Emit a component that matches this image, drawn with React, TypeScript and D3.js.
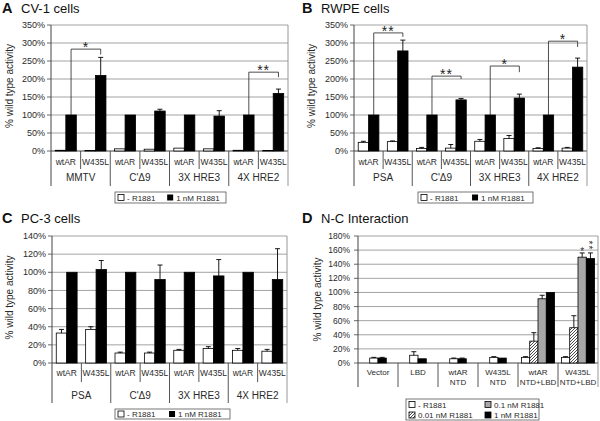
import React from "react";
import * as d3 from "d3";

const FONT = "'Liberation Sans', Arial, Helvetica, sans-serif";

// ---------- data ----------
const constructs = ["wtAR", "W435L"];
const groupsA = ["MMTV", "C'Δ9", "3X HRE3", "4X HRE2"];
const groupsBC = ["PSA", "C'Δ9", "3X HRE3", "4X HRE2"];

const aNone = [2, 1.5, 6, 5, 8, 6, 2, 1.5];
const aNoneErr = [1, 0.5, 1, 1, 1, 1, 1, 0.5];
const a1nM = [100, 210, 100, 111, 100, 97, 100, 160];
const a1nMErr = [0, 50, 0, 5, 0, 15, 0, 12];

const bNone = [24, 26, 7, 8, 27, 35, 7, 8];
const bNoneErr = [3, 2, 3, 10, 5, 8, 2, 2];
const b1nM = [100, 278, 100, 142, 100, 147, 100, 233];
const b1nMErr = [0, 30, 0, 4, 0, 11, 0, 25];

const cNone = [33, 37, 11, 11, 14, 16, 14, 13];
const cNoneErr = [4, 3, 1, 1, 1, 2, 2, 2];
const c1nM = [100, 103, 100, 92, 100, 96, 100, 92];
const c1nMErr = [0, 10, 0, 16, 0, 18, 0, 34];

const dCats = [["Vector"], ["LBD"], ["wtAR", "NTD"], ["W435L", "NTD"], ["wtAR", "NTD+LBD"], ["W435L", "NTD+LBD"]];
const dNone = [7, 11, 6, 8, 8, 8];
const dNoneErr = [1, 5, 1, 1, 1, 1];
const d001 = [null, null, null, null, 31, 50];
const d001Err = [0, 0, 0, 0, 12, 17];
const d01 = [null, null, null, null, 91, 150];
const d01Err = [0, 0, 0, 0, 5, 6];
const d1 = [7, 6, 6, 7, 100, 148];
const d1Err = [1, 0, 1, 0, 0, 8];
const dStars = ["", "", "", "", "", ""];
const dStarsGray = ["", "", "", "", "", "*"];
const dStarsBlack = ["", "", "", "", "", "**"];

const bracketsA = [
  { g: 0, level: 283, right: 268, label: "*" },
  { g: 3, level: 219, right: 205, label: "**" },
];
const bracketsB = [
  { g: 0, level: 328, right: 317, label: "**" },
  { g: 1, level: 208, right: 200, label: "**" },
  { g: 2, level: 236, right: 219, label: "*" },
  { g: 3, level: 305, right: 289, label: "*" },
];

// ---------- styling ----------
const TEXT = "#2a2a2a";
const GRID = "#8c8c8c";
const AXIS = "#444";

function ErrBar({ x, y0, y1 }: { x: number; y0: number; y1: number }) {
  if (Math.abs(y0 - y1) < 0.5) return null;
  return (
    <g stroke="#000" strokeWidth={0.9}>
      <line x1={x} x2={x} y1={y0} y2={y1} />
      <line x1={x - 2.5} x2={x + 2.5} y1={y1} y2={y1} />
    </g>
  );
}

function Title({ x, y, letter, title }: any) {
  return (
    <g fill="#111">
      <text x={x} y={y} fontSize={14.5} fontWeight="bold">{letter}</text>
      <text x={x + 19} y={y} fontSize={13}>{title}</text>
    </g>
  );
}

function YAxis({ x0, x1, y, ticks, fs, tickLen, gap }: any) {
  return (
    <g>
      {ticks.map((t: number) => (
        <g key={t}>
          <line x1={x0} x2={x1} y1={y(t)} y2={y(t)} stroke={t === 0 ? AXIS : GRID} strokeWidth={t === 0 ? 1 : 0.8} />
          <line x1={x0 - tickLen} x2={x0} y1={y(t)} y2={y(t)} stroke={AXIS} strokeWidth={0.8} />
          <text x={x0 - gap} y={y(t) + fs * 0.35} fontSize={fs} textAnchor="end" fill={TEXT}>{`${t}%`}</text>
        </g>
      ))}
    </g>
  );
}

function GroupedPanel(p: any) {
  const { L, letter, title, groups, none, noneErr, hi, hiErr, yMax, yStep, brackets } = p;
  const n = groups.length * constructs.length;
  const x = d3.scaleBand<number>().domain(d3.range(n)).range([L.x0, L.x1]).paddingInner(0.29).paddingOuter(0.145);
  const sx = d3.scaleBand<string>().domain(["none", "hi"]).range([0, x.bandwidth()]);
  const bw = sx.bandwidth();
  const y = d3.scaleLinear().domain([0, yMax]).range([L.yBot, L.yTop]);
  const ticks = d3.range(0, yMax + 1e-6, yStep);
  const step = (L.x1 - L.x0) / n;
  const cx = (i: number) => L.x0 + (i + 0.5) * step;
  const hiCx = (i: number) => (x(i) as number) + (sx("hi") as number) + bw / 2;
  const noneCx = (i: number) => (x(i) as number) + (sx("none") as number) + bw / 2;
  return (
    <g>
      <Title x={L.letterX} y={L.titleBase} letter={letter} title={title} />
      <YAxis x0={L.x0} x1={L.x1} y={y} ticks={ticks} fs={9} tickLen={4} gap={6} />
      <line x1={L.x0} x2={L.x0} y1={L.yTop} y2={L.groupEnd} stroke={AXIS} strokeWidth={1} />
      <line x1={L.x1} x2={L.x1} y1={L.yTop} y2={L.groupEnd} stroke={GRID} strokeWidth={0.9} />
      {d3.range(1, n).map((i) => (
        <line key={i} x1={L.x0 + i * step} x2={L.x0 + i * step} y1={L.yBot} y2={i % 2 === 0 ? L.groupEnd : L.innerEnd} stroke={AXIS} strokeWidth={0.9} />
      ))}
      {d3.range(n).map((i) => (
        <text key={"s" + i} x={cx(i)} y={L.subBase} fontSize={8.5} textAnchor="middle" fill={TEXT}>{constructs[i % 2]}</text>
      ))}
      {groups.map((g: string, gi: number) => (
        <text key={"g" + gi} x={L.x0 + (2 * gi + 1) * step} y={L.groupBase} fontSize={10} textAnchor="middle" fill={TEXT}>{g}</text>
      ))}
      {d3.range(n).map((i) => (
        <g key={"b" + i}>
          <rect x={(x(i) as number) + (sx("none") as number)} y={y(none[i])} width={bw} height={L.yBot - y(none[i])} fill="#fff" stroke="#000" strokeWidth={0.8} />
          <ErrBar x={noneCx(i)} y0={y(none[i])} y1={y(none[i] + noneErr[i])} />
          <rect x={(x(i) as number) + (sx("hi") as number)} y={y(hi[i])} width={bw} height={L.yBot - y(hi[i])} fill="#000" stroke="#000" strokeWidth={0.8} />
          <ErrBar x={hiCx(i)} y0={y(hi[i])} y1={y(hi[i] + hiErr[i])} />
        </g>
      ))}
      {brackets.map((b: any, k: number) => {
        const lx = hiCx(2 * b.g);
        const rx = hiCx(2 * b.g + 1);
        return (
          <g key={"br" + k}>
            <path d={`M${lx},${y(hi[2 * b.g])}V${y(b.level)}H${rx}V${y(b.right)}`} fill="none" stroke="#222" strokeWidth={0.8} />
            <text x={(lx + rx) / 2} y={y(b.level) + 3} fontSize={14} textAnchor="middle" letterSpacing={1} fill="#222">{b.label}</text>
          </g>
        );
      })}
      <text transform={`translate(${L.yTitleX},${(L.yTop + L.yBot) / 2 - 2}) rotate(-90)`} fontSize={10} textAnchor="middle" fill={TEXT}>% wild type activity</text>
      <g>
        <rect x={L.legend.x} y={L.legend.y} width={L.legend.w} height={L.legend.h} fill="#fff" stroke="#555" strokeWidth={0.8} />
        <rect x={L.legend.x + 3} y={L.legend.y + L.legend.h / 2 - 3} width={6} height={6} fill="#fff" stroke="#000" strokeWidth={0.8} />
        <text x={L.legend.x + 12} y={L.legend.y + L.legend.h / 2 + 3} fontSize={8} fill={TEXT}>- R1881</text>
        <rect x={L.legend.x + L.legend.w * 0.47} y={L.legend.y + L.legend.h / 2 - 3} width={6} height={6} fill="#000" />
        <text x={L.legend.x + L.legend.w * 0.47 + 9} y={L.legend.y + L.legend.h / 2 + 3} fontSize={8} fill={TEXT}>1 nM R1881</text>
      </g>
    </g>
  );
}

function PanelD() {
  const L = { x0: 358, x1: 598, yTop: 236, yBot: 363, l1: 375, l2: 385, sepEnd: 387, yTitleX: 321, titleBase: 223, letterX: 302 };
  const n = dCats.length;
  const yMax = 180;
  const x = d3.scaleBand<number>().domain(d3.range(n)).range([L.x0, L.x1]).paddingInner(0.17).paddingOuter(0.085);
  const barW = x.bandwidth() / 4;
  const y = d3.scaleLinear().domain([0, yMax]).range([L.yBot, L.yTop]);
  const ticks = d3.range(0, yMax + 1e-6, 20);
  const step = (L.x1 - L.x0) / n;
  const series = [
    { key: "none", vals: dNone, errs: dNoneErr, fill: "#fff", stars: dStars },
    { key: "001", vals: d001, errs: d001Err, fill: "url(#hatch)", stars: dStars },
    { key: "01", vals: d01, errs: d01Err, fill: "#a8a8a8", stars: dStarsGray },
    { key: "1", vals: d1, errs: d1Err, fill: "#000", stars: dStarsBlack },
  ];
  const legendX = 406, legendY = 399, legendW = 133, legendH = 21;
  const legendItems = [
    { fill: "#fff", label: "- R1881", col: 0, row: 0 },
    { fill: "url(#hatch)", label: "0.01 nM R1881", col: 0, row: 1 },
    { fill: "#a8a8a8", label: "0.1 nM R1881", col: 1, row: 0 },
    { fill: "#000", label: "1 nM R1881", col: 1, row: 1 },
  ];
  return (
    <g>
      <Title x={L.letterX} y={L.titleBase} letter="D" title="N-C Interaction" />
      <YAxis x0={L.x0} x1={L.x1} y={y} ticks={ticks} fs={8.5} tickLen={4} gap={8} />
      <line x1={L.x0} x2={L.x0} y1={L.yTop} y2={L.sepEnd} stroke={AXIS} strokeWidth={1} />
      <line x1={L.x1} x2={L.x1} y1={L.yTop} y2={L.sepEnd} stroke={GRID} strokeWidth={0.9} />
      {d3.range(1, n).map((i) => (
        <line key={i} x1={L.x0 + i * step} x2={L.x0 + i * step} y1={L.yBot} y2={L.sepEnd} stroke={AXIS} strokeWidth={0.9} />
      ))}
      {dCats.map((c, i) => (
        <text key={"c" + i} x={L.x0 + (i + 0.5) * step} fontSize={8} textAnchor="middle" fill={TEXT}>
          {c.map((line, li) => (
            <tspan key={li} x={L.x0 + (i + 0.5) * step} y={li === 0 ? L.l1 : L.l2}>{line}</tspan>
          ))}
        </text>
      ))}
      {dCats.map((_, i) => {
        const present = series.filter((s) => s.vals[i] !== null);
        const center = (x(i) as number) + x.bandwidth() / 2;
        const sx = d3.scaleBand<string>().domain(present.map((s) => s.key)).range([center - (present.length * barW) / 2, center + (present.length * barW) / 2]);
        return (
          <g key={"bars" + i}>
            {present.map((s) => {
              const v = s.vals[i] as number;
              const bx = sx(s.key) as number;
              const mid = bx + barW / 2;
              const top = y(v + s.errs[i]);
              const star = s.stars[i];
              return (
                <g key={s.key}>
                  <rect x={bx} y={y(v)} width={barW} height={L.yBot - y(v)} fill={s.fill} stroke="#000" strokeWidth={0.8} />
                  <ErrBar x={mid} y0={y(v)} y1={top} />
                  {star.length === 1 ? (
                    <text x={mid} y={top + 2.5} fontSize={10} textAnchor="middle" fill="#333">{star}</text>
                  ) : star.length > 1 ? (
                    <text transform={`translate(${mid - 2.3},${top - 7.5}) rotate(90)`} fontSize={10} textAnchor="middle" dominantBaseline="central" letterSpacing={1} fill="#333">{star}</text>
                  ) : null}
                </g>
              );
            })}
          </g>
        );
      })}
      <text transform={`translate(${L.yTitleX},${(L.yTop + L.yBot) / 2}) rotate(-90)`} fontSize={10} textAnchor="middle" fill={TEXT}>% wild type activity</text>
      <g>
        <rect x={legendX} y={legendY} width={legendW} height={legendH} fill="#fff" stroke="#555" strokeWidth={0.8} />
        {legendItems.map((it, k) => {
          const lx = legendX + 3 + it.col * 76;
          const ly = legendY + 5.5 + it.row * 10.5;
          return (
            <g key={k}>
              <rect x={lx} y={ly - 3} width={6} height={6} fill={it.fill} stroke="#000" strokeWidth={0.8} />
              <text x={lx + 9} y={ly + 3} fontSize={8} fill={TEXT}>{it.label}</text>
            </g>
          );
        })}
      </g>
    </g>
  );
}

const layoutA = { x0: 51, x1: 288, yTop: 25, yBot: 151, subBase: 165, groupBase: 181, innerEnd: 169, groupEnd: 186, yTitleX: 13, titleBase: 13, letterX: 2, legend: { x: 115, y: 192, w: 111, h: 11 } };
const layoutB = { x0: 354, x1: 587, yTop: 25, yBot: 151, subBase: 165, groupBase: 181, innerEnd: 169, groupEnd: 186, yTitleX: 315, titleBase: 13, letterX: 302, legend: { x: 418, y: 192, w: 115, h: 11 } };
const layoutC = { x0: 52, x1: 287, yTop: 236, yBot: 363, subBase: 376, groupBase: 399, innerEnd: 382, groupEnd: 403, yTitleX: 13, titleBase: 223, letterX: 2, legend: { x: 115, y: 409, w: 115, h: 10 } };

export default function App() {
  return (
    <svg width={600} height={421} viewBox="0 0 600 421" fontFamily={FONT} style={{ position: "absolute", left: 0, top: 0, background: "#fff" }}>
      <defs>
        <pattern id="hatch" patternUnits="userSpaceOnUse" width={3} height={3}>
          <rect width={3} height={3} fill="#fff" />
          <path d="M-1,1 l2,-2 M0,3 l3,-3 M2,4 l2,-2" stroke="#000" strokeWidth={0.7} />
        </pattern>
      </defs>
      <rect width={600} height={421} fill="#fff" />
      <GroupedPanel L={layoutA} letter="A" title="CV-1 cells" groups={groupsA} none={aNone} noneErr={aNoneErr} hi={a1nM} hiErr={a1nMErr} yMax={350} yStep={50} brackets={bracketsA} />
      <GroupedPanel L={layoutB} letter="B" title="RWPE cells" groups={groupsBC} none={bNone} noneErr={bNoneErr} hi={b1nM} hiErr={b1nMErr} yMax={350} yStep={50} brackets={bracketsB} />
      <GroupedPanel L={layoutC} letter="C" title="PC-3 cells" groups={groupsBC} none={cNone} noneErr={cNoneErr} hi={c1nM} hiErr={c1nMErr} yMax={140} yStep={20} brackets={[]} />
      <PanelD />
    </svg>
  );
}
